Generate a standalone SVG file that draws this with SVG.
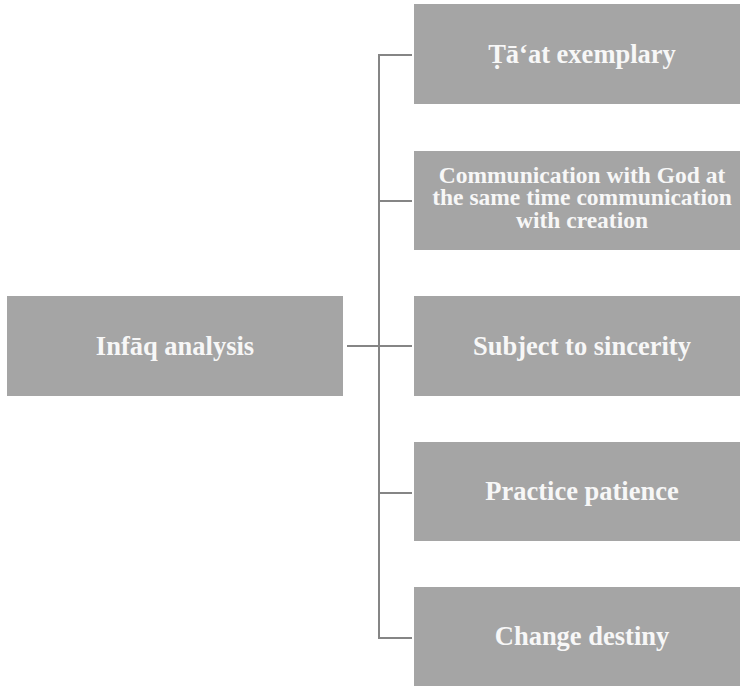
<svg xmlns="http://www.w3.org/2000/svg" width="740" height="686" viewBox="0 0 740 686">
<style>
.box{fill:#a5a5a5;}
.lbl{font-family:"Liberation Serif","Times New Roman",serif;font-weight:bold;fill:#f7f7f7;text-anchor:middle;font-size:26.5px;}
.lbl2{font-size:23.5px;}
.conn{fill:none;stroke:#858585;stroke-width:2;}
</style>
<rect width="740" height="686" fill="#ffffff"/>
<g id="connectors">
<path class="conn" d="M412,55 H379 V638 H412 M379,201 H412 M347,346 H412 M379,493 H412"/>
</g>
<g id="node-infaq">
<rect class="box" x="7" y="296" width="336" height="100"/>
<text class="lbl" x="175" y="354.5">Infāq analysis</text>
</g>
<g id="node-taat">
<rect class="box" x="414" y="4" width="336" height="100"/>
<text class="lbl" x="582" y="63">Ṭā‘at exemplary</text>
</g>
<g id="node-communication">
<rect class="box" x="414" y="151" width="336" height="99"/>
<text class="lbl lbl2" x="582" y="182.5">Communication with God at</text>
<text class="lbl lbl2" x="582" y="205">the same time communication</text>
<text class="lbl lbl2" x="582" y="227.5">with creation</text>
</g>
<g id="node-sincerity">
<rect class="box" x="414" y="296" width="336" height="100"/>
<text class="lbl" x="582" y="354.5">Subject to sincerity</text>
</g>
<g id="node-patience">
<rect class="box" x="414" y="442" width="336" height="99"/>
<text class="lbl" x="582" y="500">Practice patience</text>
</g>
<g id="node-destiny">
<rect class="box" x="414" y="587" width="336" height="99"/>
<text class="lbl" x="582" y="645">Change destiny</text>
</g>
</svg>
